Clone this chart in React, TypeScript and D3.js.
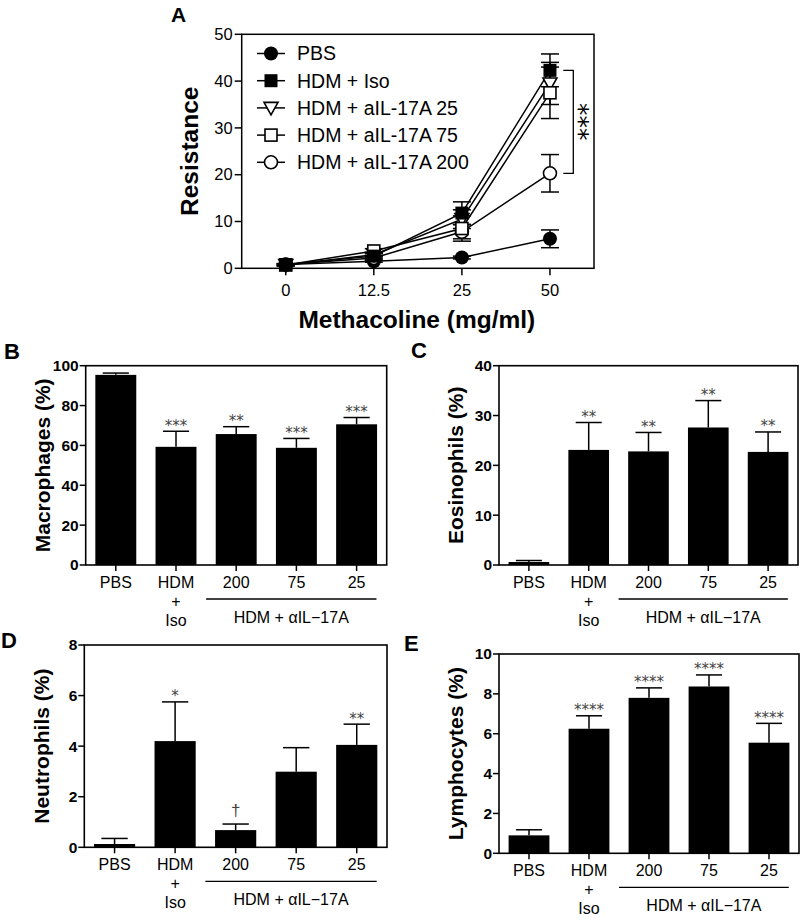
import React from 'react';
import * as d3 from 'd3';

// ---------- Panel A data ----------
const doses = ['0', '12.5', '25', '50'];
const pbsA = [0.8, 1.5, 2.3, 6.3];
const pbsAErr = [0.1, 0.2, 0.3, 1.9];
const isoA = [0.8, 2.6, 11.8, 42.3];
const isoAErr = [0.2, 0.5, 2.4, 3.5];
const a25A = [0.7, 2.9, 10.5, 39.5];
const a25AErr = [0.2, 0.5, 2.0, 4.5];
const a75A = [0.7, 3.7, 8.5, 37.5];
const a75AErr = [0.2, 0.5, 2.7, 5.5];
const a200A = [0.8, 2.2, 7.8, 20.3];
const a200AErr = [0.2, 0.4, 1.5, 4.0];
const legendLabels = ['PBS', 'HDM + Iso', 'HDM + aIL-17A 25', 'HDM + aIL-17A 75', 'HDM + aIL-17A 200'];
const resistanceTicks = [0, 10, 20, 30, 40, 50];

// ---------- Bar panels data ----------
const groups = ['PBS', 'HDM', '200', '75', '25'];
const macro = [95.4, 59.3, 65.7, 58.8, 70.6];
const macroErr = [0.9, 7.8, 3.7, 4.7, 3.4];
const macroSig = ['', '***', '**', '***', '***'];
const eos = [0.6, 23.1, 22.8, 27.6, 22.7];
const eosErr = [0.3, 5.5, 3.8, 5.4, 4.0];
const eosSig = ['', '**', '**', '**', '**'];
const neut = [0.13, 4.2, 0.68, 2.99, 4.05];
const neutErr = [0.22, 1.55, 0.24, 0.95, 0.82];
const neutSig = ['', '*', '†', '', '**'];
const lymph = [0.9, 6.25, 7.8, 8.37, 5.55];
const lymphErr = [0.28, 0.65, 0.5, 0.58, 0.97];
const lymphSig = ['', '****', '****', '****', '****'];

const FONT = '"Liberation Sans", Arial, Helvetica, sans-serif';
const LETTER_FONT = '"Liberation Sans", Arial, sans-serif';
const STAR_FONT = '"DejaVu Sans", sans-serif';

type Series = { vals: number[]; errs: number[]; marker: string };

function Marker({ kind, x, y }: { kind: string; x: number; y: number }) {
  const sw = 1.6;
  if (kind === 'filledCircle') return <circle cx={x} cy={y} r={7} fill="#000" />;
  if (kind === 'openCircle') return <circle cx={x} cy={y} r={6.5} fill="#fff" stroke="#000" strokeWidth={sw} />;
  if (kind === 'filledSquare') return <rect x={x - 6.5} y={y - 6.5} width={13} height={13} fill="#000" />;
  if (kind === 'openSquare') return <rect x={x - 6} y={y - 6} width={12} height={12} fill="#fff" stroke="#000" strokeWidth={sw} />;
  const p = `M${x - 7},${y - 5.5} L${x + 7},${y - 5.5} L${x},${y + 7} Z`;
  return <path d={p} fill="#fff" stroke="#000" strokeWidth={sw} />;
}

function PanelA() {
  const l = 241.7, r = 594, t = 34.3, b = 268.3;
  const x = d3.scalePoint<string>().domain(doses).range([l, r]).padding(0.5);
  const y = d3.scaleLinear().domain([0, 50]).range([b, t]);
  const series: Series[] = [
    { vals: pbsA, errs: pbsAErr, marker: 'filledCircle' },
    { vals: a200A, errs: a200AErr, marker: 'openCircle' },
    { vals: a25A, errs: a25AErr, marker: 'openTriangle' },
    { vals: a75A, errs: a75AErr, marker: 'openSquare' },
    { vals: isoA, errs: isoAErr, marker: 'filledSquare' },
  ];
  const legendMarkers = ['filledCircle', 'filledSquare', 'openTriangle', 'openSquare', 'openCircle'];
  const line = d3.line<number>().x((_, i) => x(doses[i])!).y((d) => y(d));
  const bx = 573.3;
  return (
    <g fontFamily={FONT}>
      <text x={171} y={22} fontFamily={LETTER_FONT} fontWeight={700} fontSize={21}>A</text>
      <rect x={l} y={t} width={r - l} height={b - t} fill="none" stroke="#000" strokeWidth={1.5} />
      {resistanceTicks.map((v) => (
        <g key={v}>
          <line x1={l - 7} x2={l} y1={y(v)} y2={y(v)} stroke="#000" strokeWidth={1.5} />
          <text x={l - 9} y={y(v)} dy="0.35em" textAnchor="end" fontSize={16.5}>{v}</text>
        </g>
      ))}
      {doses.map((d) => (
        <g key={d}>
          <line x1={x(d)} x2={x(d)} y1={b} y2={b + 7} stroke="#000" strokeWidth={1.5} />
          <text x={x(d)} y={296} textAnchor="middle" fontSize={16.5}>{d}</text>
        </g>
      ))}
      <text x={(l + r) / 2 - 1} y={328} textAnchor="middle" fontSize={24.5} fontWeight={700}>Methacoline (mg/ml)</text>
      <text transform={`translate(198,${(t + b) / 2}) rotate(-90)`} textAnchor="middle" fontSize={24.5} fontWeight={700}>Resistance</text>
      {series.map((s, i) => (
        <path key={'l' + i} d={line(s.vals)!} fill="none" stroke="#000" strokeWidth={1.5} />
      ))}
      {series.map((s, i) => (
        <g key={'e' + i}>
          {s.vals.map((v, j) => {
            const cx = x(doses[j])!;
            return (
              <g key={j}>
                <line x1={cx} x2={cx} y1={y(v - s.errs[j])} y2={y(v + s.errs[j])} stroke="#000" strokeWidth={1.5} />
                <line x1={cx - 9} x2={cx + 9} y1={y(v + s.errs[j])} y2={y(v + s.errs[j])} stroke="#000" strokeWidth={1.5} />
                <line x1={cx - 9} x2={cx + 9} y1={y(v - s.errs[j])} y2={y(v - s.errs[j])} stroke="#000" strokeWidth={1.5} />
              </g>
            );
          })}
        </g>
      ))}
      {series.map((s, i) => (
        <g key={'m' + i}>
          {s.vals.map((v, j) => <Marker key={j} kind={s.marker} x={x(doses[j])!} y={y(v)} />)}
        </g>
      ))}
      {legendLabels.map((lab, i) => {
        const ly = 53.5 + i * 27.2;
        return (
          <g key={lab}>
            <line x1={257} x2={285} y1={ly} y2={ly} stroke="#000" strokeWidth={1.5} />
            <Marker kind={legendMarkers[i]} x={271} y={ly} />
            <text x={297} y={ly} dy="0.35em" fontSize={19.5}>{lab}</text>
          </g>
        );
      })}
      <path d={`M${bx - 10},${y(isoA[3])} H${bx} V${y(a200A[3])} H${bx - 10}`} fill="none" stroke="#000" strokeWidth={1.3} />
      <text transform={`translate(${bx - 2},${(y(isoA[3]) + y(a200A[3])) / 2}) rotate(90)`} textAnchor="middle" fontFamily={STAR_FONT} fontSize={25}>***</text>
    </g>
  );
}

type BarProps = {
  l: number; r: number; t: number; b: number;
  max: number; step: number;
  vals: number[]; errs: number[]; sig: string[];
  title: string; titleX: number;
  letter: string; letterX: number; letterY: number;
};

function BarPanel(p: BarProps) {
  const x = d3.scaleBand<string>().domain(groups).range([p.l, p.r]).paddingInner(0.32).paddingOuter(0.16);
  const y = d3.scaleLinear().domain([0, p.max]).range([p.b, p.t]);
  const ticks = d3.range(0, p.max + p.step / 2, p.step);
  const bw = x.bandwidth();
  const c = (g: string) => x(g)! + bw / 2;
  const lineX1 = c('200') - x.step() * 0.5;
  const lineX2 = c('25') + x.step() * 0.33;
  return (
    <g fontFamily={FONT}>
      <text x={p.letterX} y={p.letterY} fontFamily={LETTER_FONT} fontWeight={700} fontSize={22}>{p.letter}</text>
      <text transform={`translate(${p.titleX},${(p.t + p.b) / 2}) rotate(-90)`} textAnchor="middle" fontSize={21} fontWeight={700}>{p.title}</text>
      {groups.map((g, i) => {
        const top = y(p.vals[i] + p.errs[i]);
        const dag = p.sig[i] === '†';
        return (
          <g key={g}>
            <line x1={c(g)} x2={c(g)} y1={y(p.vals[i])} y2={top} stroke="#000" strokeWidth={1.5} />
            <line x1={c(g) - bw * 0.32} x2={c(g) + bw * 0.32} y1={top} y2={top} stroke="#000" strokeWidth={1.5} />
            <rect x={x(g)} y={y(p.vals[i])} width={bw} height={p.b - y(p.vals[i])} fill="#000" />
            {p.sig[i] && (
              <text x={c(g)} y={dag ? top - 8 : top - 0.5} textAnchor="middle"
                fontFamily={dag ? FONT : STAR_FONT} fontSize={dag ? 17 : 15} fill="#444">{p.sig[i]}</text>
            )}
          </g>
        );
      })}
      <rect x={p.l} y={p.t} width={p.r - p.l} height={p.b - p.t} fill="none" stroke="#000" strokeWidth={1.6} />
      {ticks.map((v) => (
        <g key={v}>
          <line x1={p.l - 6} x2={p.l} y1={y(v)} y2={y(v)} stroke="#000" strokeWidth={1.5} />
          <text x={p.l - 7} y={y(v)} dy="0.35em" textAnchor="end" fontSize={15.5} fontWeight={700}>{v}</text>
        </g>
      ))}
      {groups.map((g) => (
        <g key={'t' + g}>
          <line x1={c(g)} x2={c(g)} y1={p.b} y2={p.b + 6} stroke="#000" strokeWidth={1.5} />
          <text x={c(g)} y={p.b + 23} textAnchor="middle" fontSize={16}>{g}</text>
        </g>
      ))}
      <text x={c('HDM')} y={p.b + 42} textAnchor="middle" fontSize={16}>+</text>
      <text x={c('HDM')} y={p.b + 61} textAnchor="middle" fontSize={16}>Iso</text>
      <line x1={lineX1} x2={lineX2} y1={p.b + 34} y2={p.b + 34} stroke="#000" strokeWidth={1.3} />
      <text x={(lineX1 + lineX2) / 2} y={p.b + 58} textAnchor="middle" fontSize={16}>HDM + αIL−17A</text>
    </g>
  );
}

export default function App() {
  return (
    <svg width={800} height={919} style={{ position: 'absolute', left: 0, top: 0, background: '#fff' }}>
      <rect width={800} height={919} fill="#fff" />
      <PanelA />
      <BarPanel l={85.7} r={386.7} t={365.7} b={565} max={100} step={20} vals={macro} errs={macroErr} sig={macroSig}
        title="Macrophages (%)" titleX={50} letter="B" letterX={4} letterY={359} />
      <BarPanel l={499} r={798} t={365.7} b={565} max={40} step={10} vals={eos} errs={eosErr} sig={eosSig}
        title="Eosinophils (%)" titleX={463} letter="C" letterX={411} letterY={358} />
      <BarPanel l={84.3} r={387} t={645} b={847.3} max={8} step={2} vals={neut} errs={neutErr} sig={neutSig}
        title="Neutrophils (%)" titleX={49} letter="D" letterX={1} letterY={648} />
      <BarPanel l={499} r={799} t={654} b={853.3} max={10} step={2} vals={lymph} errs={lymphErr} sig={lymphSig}
        title="Lymphocytes (%)" titleX={463} letter="E" letterX={404} letterY={651} />
    </svg>
  );
}
